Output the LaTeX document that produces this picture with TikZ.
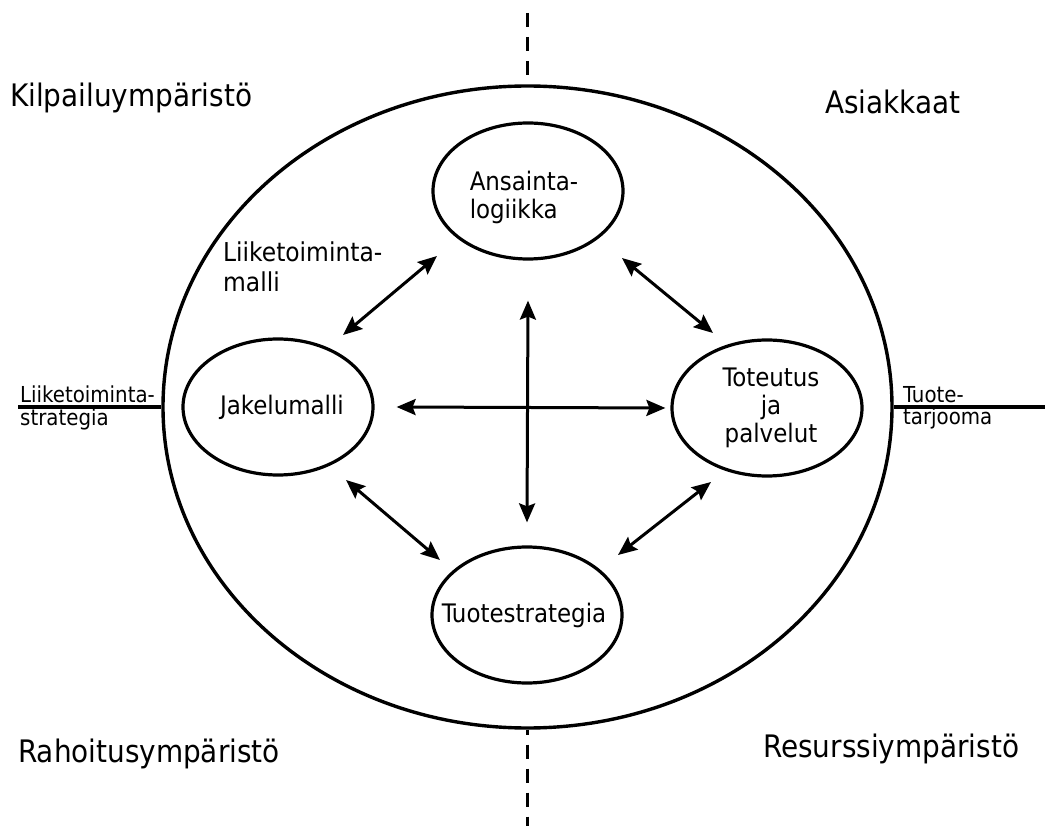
\documentclass[tikz,border=0pt]{standalone}
\usepackage{fontspec}
\setmainfont{DejaVu Sans Condensed}
\usetikzlibrary{
	arrows.meta,
	positioning,
	calc,
	shapes.geometric
}

\begin{document}
\begin{tikzpicture}[x=1pt, y=-1pt,
  soikio/.style={ellipse, draw, line width=3.2pt, inner sep=0pt,
    minimum width=190pt, minimum height=136pt},
  teksti/.style={font=\fontsize{25.5}{28}\selectfont, align=left},
  kulma/.style={font=\fontsize{31}{36}\selectfont, anchor=base west, inner sep=0pt},
  pieni/.style={font=\fontsize{22}{22.5}\selectfont, align=left,
    anchor=north west, inner sep=0pt},
  nuoli/.style={<->, >={Stealth[length=19pt,width=16pt,inset=3pt]},
    line width=3pt},
  katko/.style={line width=3.4pt, dash pattern=on 14pt off 10pt},
  viiva/.style={line width=3.4pt}
]
\useasboundingbox[fill=white] (0,0) rectangle (1045,826);

\node[ellipse, draw, line width=3.4pt, inner sep=0pt,
  minimum width=729pt, minimum height=642pt] (iso) at (527.5,407) {};
\node[soikio, label={[teksti, xshift=-4pt, yshift=-6pt]center:Ansainta-\\logiikka}]
  (ansainta) at (528,191) {};
\node[soikio, label={[teksti, xshift=4pt]center:Jakelumalli}] (jakelu) at (278,407) {};
\node[soikio, label={[teksti, align=center, xshift=4pt]center:Toteutus\\ja\\palvelut}]
  (toteutus) at (767,408) {};
\node[soikio, label={[teksti, xshift=-3pt]center:Tuotestrategia}] (tuote) at (527,615) {};

\node[kulma] (kilpailu) at (10,107) {Kilpailuympäristö};
\node[kulma] (asiakkaat) at (825,114) {Asiakkaat};
\node[kulma] (rahoitus) at (18,762) {Rahoitusympäristö};
\node[kulma] (resurssi) at (763,757) {Resurssiympäristö};

\node[teksti, anchor=north west, inner sep=0pt, font=\fontsize{26}{30}\selectfont]
  (malli) at (223,242) {Liiketoiminta-\\malli};
\node[pieni] (strategia) at (20,386) {Liiketoiminta-\\strategia};
\node[pieni] (tarjooma) at (903,386) {Tuote-\\tarjooma};

% ulkoiset viivat
\coordinate (vasen) at (18,407);
\coordinate (oikea) at (1045,407);
\coordinate (yla) at (527.5,13);
\coordinate (ala) at (527.5,826);
\draw[viiva] (vasen) -- (iso.west);
\draw[viiva] (iso.east) -- (oikea);
\draw[katko] (yla) -- (iso.north);
\draw[katko, dash phase=9pt] (iso.south) -- (ala);

% nuolet
\draw[nuoli] ($(jakelu)+(65,-72)$) -- ($(ansainta)+(-91,65)$);
\draw[nuoli] ($(ansainta)+(94,67)$) -- ($(toteutus)+(-54,-75)$);
\draw[nuoli] ($(jakelu)+(68,73)$) -- ($(tuote)+(-87,-55)$);
\draw[nuoli] ($(tuote)+(91,-60)$) -- ($(toteutus)+(-56,74)$);
\draw[nuoli] ([xshift=22pt]jakelu.east) -- ([xshift=-5pt]toteutus.west);
\draw[nuoli] ([yshift=-40pt]ansainta.south) -- ([yshift=23pt]tuote.north);
\end{tikzpicture}
\end{document}
